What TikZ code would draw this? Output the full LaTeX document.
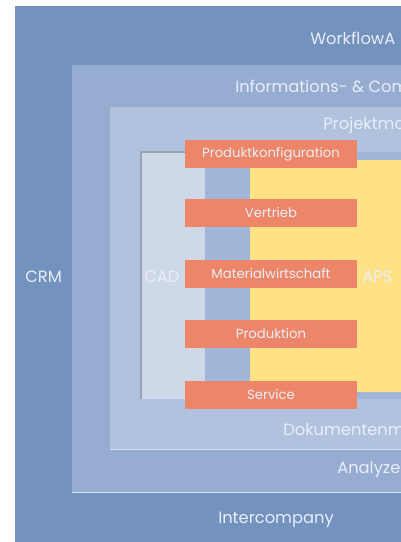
\documentclass[tikz,border=0pt]{standalone}
\usepackage{fontspec}
\setmainfont{Poppins}
\definecolor{crmblue}{RGB}{116,146,190}
\definecolor{infoblue}{RGB}{150,173,209}
\definecolor{projblue}{RGB}{176,194,221}
\definecolor{cadblue}{RGB}{206,216,233}
\definecolor{stripblue}{RGB}{160,181,215}
\definecolor{apsyellow}{RGB}{255,226,133}
\definecolor{barorange}{RGB}{237,134,104}
\definecolor{labelwhite}{RGB}{232,238,248}
\begin{document}
\begin{tikzpicture}[x=0.025cm,y=-0.025cm,
  layer/.style={draw=labelwhite!80!infoblue, line width=0.6pt},
  layerlabel/.style={text=labelwhite, font=\fontsize{11.6}{13}\selectfont, anchor=west, inner sep=0pt},
  bar/.style={fill=barorange, text=labelwhite, font=\fontsize{9.4}{11}\selectfont,
    minimum width=4.3cm, minimum height=0.72cm, inner sep=0pt}]
  \useasboundingbox (0,0) rectangle (401,542);
  \clip (0,0) rectangle (401,542);
  % nested layers
  \fill[crmblue] (15,6) rectangle (420,560);
  \fill[infoblue] (72,65) rectangle (420,492);
  \draw[layer] (72,492) -- (420,492);
  \fill[projblue] (110,107) rectangle (420,449);
  \draw[layer] (110,449) -- (420,449);
  % CAD / APS core
  \fill[stripblue] (141,152) rectangle (420,399);
  \fill[cadblue] (141,152) rectangle (205,399);
  \draw[gray!45!projblue, line width=0.8pt] (141,399) -- (141,152) -- (250,152);
  \fill[apsyellow] (250,160) rectangle (420,392);
  % layer labels
  \node[layerlabel] (workflow) at (310,38) {WorkflowA};
  \node[layerlabel] (info) at (235,86) {Informations- \& Com};
  \node[layerlabel] (projekt) at (323,125) {Projektma};
  \node[layerlabel] (dokument) at (283,430) {Dokumentenm};
  \node[layerlabel] (analyze) at (337,470) {Analyze};
  \node[layerlabel] (inter) at (218,520) {Intercompany};
  \node[layerlabel] (crm) at (25,277) {CRM};
  \node[layerlabel] (cad) at (144,277) {CAD};
  \node[layerlabel] (aps) at (362,277) {APS};
  % process bars
  \node[bar] (konfig) at (271,154) {Produktkonfiguration};
  \node[bar] (vertrieb) at (271,213) {Vertrieb};
  \node[bar] (material) at (271,274) {Materialwirtschaft};
  \node[bar] (produktion) at (271,334) {Produktion};
  \node[bar] (service) at (271,395) {Service};
\end{tikzpicture}
\end{document}
